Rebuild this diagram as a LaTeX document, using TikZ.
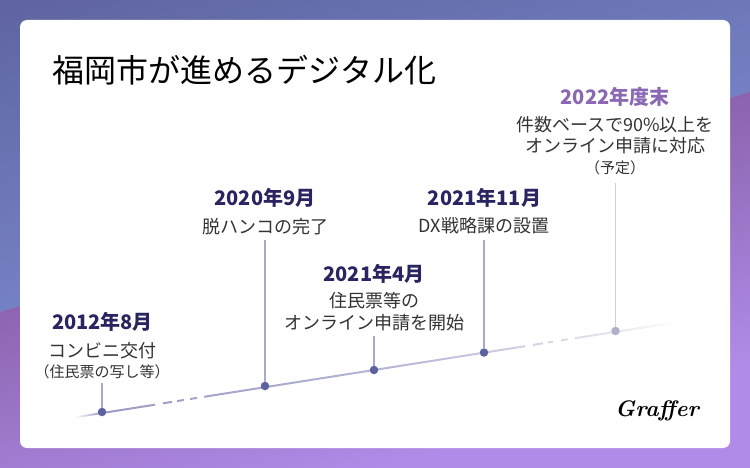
\documentclass[tikz,border=0pt]{standalone}
\usepackage{fontspec}
\newfontfamily\jp{Noto Sans CJK JP}
\definecolor{navy}{HTML}{2A2560}
\definecolor{plum}{HTML}{8A68B4}
\definecolor{ink}{HTML}{333333}
\definecolor{dotc}{HTML}{5C629F}
\definecolor{dotl}{HTML}{B0B0C8}
\definecolor{stemc}{HTML}{A8A8CE}
\definecolor{steml}{HTML}{CFCFE0}
\definecolor{bgA}{HTML}{5F64A0}
\definecolor{bgB}{HTML}{7480C4}
\definecolor{bgC}{HTML}{8B62AD}
\definecolor{bgD}{HTML}{B08CE8}
\definecolor{lnA}{HTML}{9A9AC4}
\definecolor{lnB}{HTML}{B4B4D6}
\definecolor{lnC}{HTML}{C8C8E0}
\definecolor{lnD}{HTML}{E6E6F0}
\pgfdeclarehorizontalshading{timeline}{100bp}{
 color(0bp)=(white);
 color(25bp)=(white);
 color(27.2bp)=(lnA);
 color(50bp)=(lnB);
 color(58.8bp)=(lnC);
 color(69.7bp)=(lnD);
 color(75bp)=(white);
 color(100bp)=(white)}
\tikzset{
 px/.style={x=1pt,y=-1pt},
 titletxt/.style={font=\jp\fontsize{32}{36}\selectfont,text=black,anchor=west,inner sep=0pt},
 yeartxt/.style={font=\jp\bfseries\fontsize{20}{24}\selectfont,text=navy,inner sep=0pt},
 yearlate/.style={yeartxt,text=plum},
 desc/.style={font=\jp\fontsize{18}{22}\selectfont,text=ink,inner sep=0pt},
 note/.style={font=\jp\fontsize{15}{18}\selectfont,text=ink,inner sep=0pt},
 dotn/.style={circle,fill=dotc,minimum size=8.5pt,inner sep=0pt},
 dotlate/.style={dotn,fill=dotl},
 stem/.style={draw=stemc,line width=1.2pt},
 stemlate/.style={draw=steml,line width=1.2pt},
}
\begin{document}
\begin{tikzpicture}[px]
\useasboundingbox (0,0) rectangle (750,468);
% background: blue field
\begin{scope}
\clip (0,0) rectangle (750,468);
\begin{scope}[transform canvas={rotate around={15.6:(0,0)}}]
\fill[bgB] (-400,-400) rectangle (1200,1000);
\shade[top color=bgA,bottom color=bgB] (-400,0) rectangle (1200,289);
\fill[bgA] (-400,-400) rectangle (1200,0);
\end{scope}
\end{scope}
% background: purple field
\begin{scope}
\clip (0,312) -- (750,92) -- (750,468) -- (0,468) -- cycle;
\begin{scope}[transform canvas={rotate around={15.6:(375,193)}}]
\fill[bgD] (-400,-400) rectangle (1200,1000);
\fill[bgC] (-400,-400) rectangle (1200,193);
\shade[top color=bgC,bottom color=bgD] (-400,193) rectangle (1200,460);
\end{scope}
\end{scope}
% card
\fill[white,rounded corners=7pt] (20,20) rectangle (730,448);
\node[titletxt] (title) at (52.5,70) {福岡市が進めるデジタル化};
% timeline line with a gradient, clipped to its solid pieces and dashes
\begin{scope}
\clip
 (75,416.3) -- (155,403.7) -- (155,405.7) -- (75,418.3) -- cycle
 (163,402.3) -- (172,400.9) -- (172,402.9) -- (163,404.3) -- cycle
 (177,400.1) -- (184,399) -- (184,401) -- (177,402.1) -- cycle
 (190,398) -- (197,396.9) -- (197,398.9) -- (190,400) -- cycle
 (204,395.8) -- (525,345.2) -- (525,347.2) -- (204,397.8) -- cycle
 (533,343.9) -- (543,342.3) -- (543,344.3) -- (533,345.9) -- cycle
 (548,341.5) -- (553,340.7) -- (553,342.7) -- (548,343.5) -- cycle
 (561,339.4) -- (568,338.3) -- (568,340.3) -- (561,341.4) -- cycle
 (575,337.2) -- (680,320.7) -- (680,322.7) -- (575,339.2) -- cycle;
\shade[shading=timeline] (75,300) rectangle (680,430);
\end{scope}
% dots
\node[dotn] (d12) at (102,412) {};
\node[dotn] (d20) at (265,386) {};
\node[dotn] (d21a) at (374,370) {};
\node[dotn] (d21n) at (484,352.5) {};
\node[dotlate] (d22) at (615.5,331) {};
% stem tops
\coordinate (t12) at (102,383);
\coordinate (t20) at (265,240);
\coordinate (t21a) at (374,336);
\coordinate (t21n) at (484,240);
\coordinate (t22) at (615.5,183);
\draw[stem] (t12) -- (d12);
\draw[stem] (t20) -- (d20);
\draw[stem] (t21a) -- (d21a);
\draw[stem] (t21n) -- (d21n);
\draw[stemlate] (t22) -- (d22);
% labels
\node[yeartxt] (y12) at (102.5,322) {2012年8月};
\node[desc] (a12) at (102,351) {コンビニ交付};
\node[note] (b12) at (102,372) {（住民票の写し等）};
\node[yeartxt] (y20) at (265,198) {2020年9月};
\node[desc] (a20) at (265,227) {脱ハンコの完了};
\node[yeartxt] (y21a) at (374,274) {2021年4月};
\node[desc] (a21a) at (374,301) {住民票等の};
\node[desc] (b21a) at (374,323) {オンライン申請を開始};
\node[yeartxt] (y21n) at (484.5,198) {2021年11月};
\node[desc] (a21n) at (484,226) {DX戦略課の設置};
\node[yearlate] (y22) at (615,97) {2022年度末};
\node[desc] (a22) at (615,125) {件数ベースで90\%以上を};
\node[desc] (b22) at (615,146) {オンライン申請に対応};
\node[note] (c22) at (615,168) {（予定）};
% logo
\node[font=\fontsize{22.5}{26}\selectfont\itshape\bfseries,text=black,inner sep=0pt] (logo) at (657,411) {Graffer};
\end{tikzpicture}
\end{document}
